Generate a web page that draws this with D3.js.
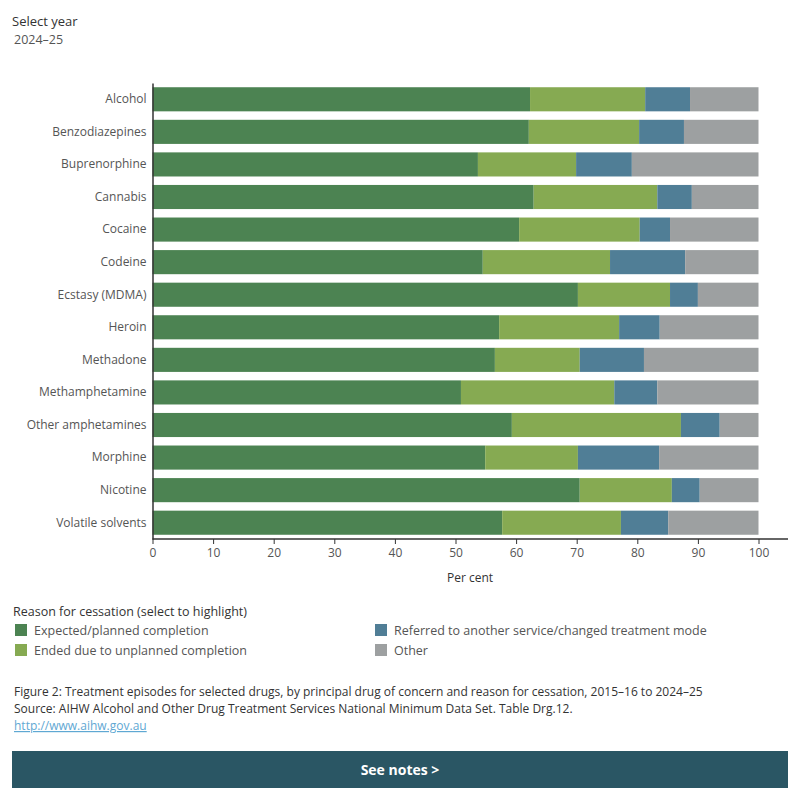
<!DOCTYPE html>
<html lang="en">
<head>
<meta charset="UTF-8">
<title>Treatment episodes by reason for cessation</title>
<script src="https://d3js.org/d3.v7.min.js"></script>
<style>
    body {
        margin: 0;
        background: #fff;
        font-family: "Open Sans", sans-serif;
    }
    #chart { width: 800px; height: 800px; }
</style>
</head>
<body>
<div id="chart"></div>
<script>
// drugs (categories)
const drugs = ["Alcohol", "Benzodiazepines", "Buprenorphine", "Cannabis", "Cocaine", "Codeine",
    "Ecstasy (MDMA)", "Heroin", "Methadone", "Methamphetamine", "Other amphetamines",
    "Morphine", "Nicotine", "Volatile solvents"];

// per cent of episodes, one array per reason
const planned   = [62.3, 62.1, 53.7, 62.9, 60.5, 54.5, 70.2, 57.2, 56.5, 50.9, 59.3, 54.9, 70.5, 57.7];
const unplanned = [19.0, 18.2, 16.2, 20.4, 19.9, 21.0, 15.2, 19.8, 14.0, 25.3, 27.9, 15.3, 15.2, 19.6];
const referred  = [ 7.4,  7.4,  9.2,  5.7,  5.0, 12.4,  4.6,  6.7, 10.6,  7.1,  6.4, 13.4,  4.6,  7.8];
const other     = [11.3, 12.3, 20.9, 11.0, 14.6, 12.1, 10.0, 16.3, 18.9, 16.7,  6.4, 16.4,  9.7, 14.9];

const reasons = ["Expected/planned completion", "Ended due to unplanned completion",
    "Referred to another service/changed treatment mode", "Other"];
const colors = ["#4c8352", "#86aa52", "#507e96", "#9da0a1"];
const xTicks = [0, 10, 20, 30, 40, 50, 60, 70, 80, 90, 100];

const table = drugs.map((d, i) => ({
    drug: d,
    [reasons[0]]: planned[i],
    [reasons[1]]: unplanned[i],
    [reasons[2]]: referred[i],
    [reasons[3]]: other[i]
}));

const svg = d3.select("#chart").append("svg")
    .attr("width", 800)
    .attr("height", 800);

// header
svg.append("text").attr("x", 12).attr("y", 26)
    .attr("font-size", 13).attr("fill", "#333").text("Select year");
svg.append("text").attr("x", 14).attr("y", 44)
    .attr("font-size", 12.5).attr("fill", "#555").text("2024\u201325");

const plotLeft = 152.5, plotRight = 758.5, plotTop = 83, plotBottom = 539;

const x = d3.scaleLinear().domain([0, 100]).range([plotLeft, plotRight]);
const y = d3.scaleBand().domain(drugs).range([plotTop, plotBottom])
    .paddingInner(0.26).paddingOuter(0.13);

const series = d3.stack().keys(reasons)(table);

svg.append("g").selectAll("g")
    .data(series)
    .join("g")
    .attr("fill", (s, i) => colors[i])
    .selectAll("rect")
    .data(s => s)
    .join("rect")
    .attr("x", d => x(d[0]))
    .attr("width", d => x(d[1]) - x(d[0]))
    .attr("y", d => y(d.data.drug))
    .attr("height", y.bandwidth());

// y axis
const yAxis = svg.append("g")
    .attr("transform", `translate(${plotLeft},0)`)
    .call(d3.axisLeft(y).tickSize(0).tickPadding(6));
yAxis.select(".domain").attr("stroke", "#333").attr("stroke-width", 1.5);
yAxis.selectAll("text").attr("font-size", 12).attr("fill", "#555")
    .attr("font-family", "Open Sans, sans-serif");

// x axis
const xAxis = svg.append("g")
    .attr("transform", `translate(0,${plotBottom})`)
    .call(d3.axisBottom(x).tickValues(xTicks).tickSize(5).tickPadding(4).tickSizeOuter(0));
xAxis.select(".domain").attr("d", `M${plotLeft},0H788`).attr("stroke", "#333").attr("stroke-width", 1.5);
xAxis.selectAll(".tick line").attr("stroke", "#333");
xAxis.selectAll("text").attr("font-size", 12).attr("fill", "#555")
    .attr("font-family", "Open Sans, sans-serif");

svg.append("text").attr("x", 470).attr("y", 582)
    .attr("text-anchor", "middle").attr("font-size", 12).attr("fill", "#333")
    .text("Per cent");

// legend
svg.append("text").attr("x", 13).attr("y", 616)
    .attr("font-size", 12.5).attr("fill", "#333")
    .text("Reason for cessation (select to highlight)");

const legend = svg.append("g").selectAll("g")
    .data(reasons)
    .join("g")
    .attr("transform", (d, i) => `translate(${i < 2 ? 15 : 375},${624 + (i % 2) * 20})`);
legend.append("rect").attr("width", 12).attr("height", 12)
    .attr("fill", (d, i) => colors[i]);
legend.append("text").attr("x", 19).attr("y", 10.5)
    .attr("font-size", 12.5).attr("fill", "#555").text(d => d);

// footer
svg.append("text").attr("x", 14).attr("y", 696)
    .attr("font-size", 12).attr("fill", "#333")
    .text("Figure 2: Treatment episodes for selected drugs, by principal drug of concern and reason for cessation, 2015\u201316 to 2024\u201325");
svg.append("text").attr("x", 14).attr("y", 713)
    .attr("font-size", 12).attr("fill", "#333")
    .text("Source: AIHW Alcohol and Other Drug Treatment Services National Minimum Data Set. Table Drg.12.");
svg.append("text").attr("x", 14).attr("y", 730)
    .attr("font-size", 12).attr("fill", "#5fa8d3")
    .attr("text-decoration", "underline")
    .text("http://www.aihw.gov.au");

svg.append("rect").attr("x", 12).attr("y", 751).attr("width", 776).attr("height", 37)
    .attr("fill", "#2a5664");
svg.append("text").attr("x", 400).attr("y", 775)
    .attr("text-anchor", "middle").attr("font-size", 14).attr("font-weight", "bold")
    .attr("fill", "#fff").text("See notes >");
</script>
</body>
</html>
